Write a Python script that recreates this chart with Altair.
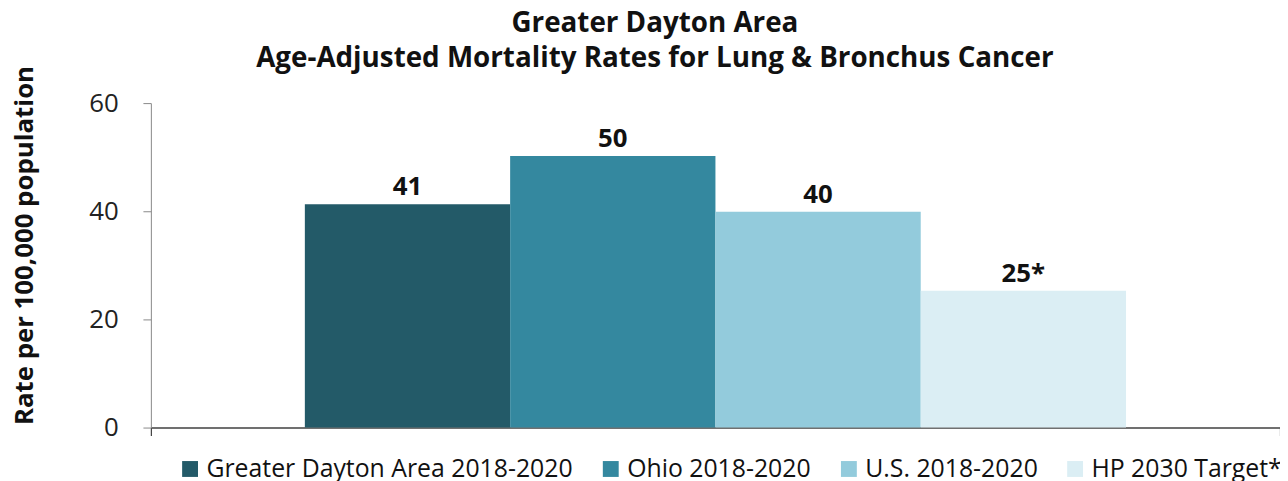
import altair as alt
import pandas as pd

series = ["Greater Dayton Area 2018-2020", "Ohio 2018-2020", "U.S. 2018-2020", "HP 2030 Target*"]
values = [41.3, 50.2, 39.9, 25.3]
labels = ["41", "50", "40", "25*"]
colors = ["#235a68", "#34889f", "#93cbdc", "#dbeef4"]
category = [""] * 4

df = pd.DataFrame({"cat": category, "series": series, "value": values, "label": labels})

FONT = "Open Sans"

x = alt.X("cat:N", title=None,
          scale=alt.Scale(paddingInner=0, paddingOuter=0),
          axis=alt.Axis(labels=False, tickBand="extent", tickSize=8, tickColor="#404040",
                        domainColor="#404040", domainWidth=1.5, tickWidth=1.2))
xo = alt.XOffset("series:N", sort=series, scale=alt.Scale(paddingInner=0, paddingOuter=0.75))
y = alt.Y("value:Q", title="Rate per 100,000 population",
          scale=alt.Scale(domain=[0, 60]),
          axis=alt.Axis(values=[0, 20, 40, 60], grid=False, tickSize=8, labelPadding=25,
                        labelFontSize=26, labelColor="#222222", labelFont=FONT,
                        domainColor="#888888", tickColor="#888888",
                        titleFont=FONT, titleFontSize=26, titleFontWeight="bold",
                        titleColor="#111111", titleX=-127, titleY=143, titleAngle=-90,
                        titleAlign="center", titleBaseline="middle"))

bars = alt.Chart(df).mark_bar().encode(
    x=x, xOffset=xo, y=y,
    color=alt.Color("series:N", sort=series,
                    scale=alt.Scale(domain=series, range=colors),
                    legend=alt.Legend(title=None, orient="none", direction="horizontal",
                                      legendX=27, legendY=356, symbolType="square",
                                      symbolSize=256, symbolStrokeWidth=0,
                                      labelFont=FONT, labelFontSize=25, labelColor="#111111",
                                      labelLimit=600, columnPadding=25, labelOffset=4,
                                      padding=0))
)

text = alt.Chart(df).mark_text(dy=-9, fontSize=26, fontWeight="bold", font=FONT,
                               color="#111111", baseline="alphabetic").encode(
    x=alt.X("cat:N"), xOffset=alt.XOffset("series:N", sort=series), y="value:Q",
    text="label:N")

chart = alt.layer(bars, text).properties(
    width=1138, height=327,
    title=alt.TitleParams(["Greater Dayton Area",
                           "Age-Adjusted Mortality Rates for Lung & Bronchus Cancer"],
                          font=FONT, fontSize=28, fontWeight="bold", color="#111111",
                          anchor="middle", frame="group",
                          dx=-61, offset=-8, lineHeight=36),
    autosize=alt.AutoSizeParams(type="none"),
    padding={"left": 144, "top": 94, "right": 0, "bottom": 52},
).configure_view(stroke=None)

chart.save("out.html", embed_options={"renderer": "svg", "actions": False})
